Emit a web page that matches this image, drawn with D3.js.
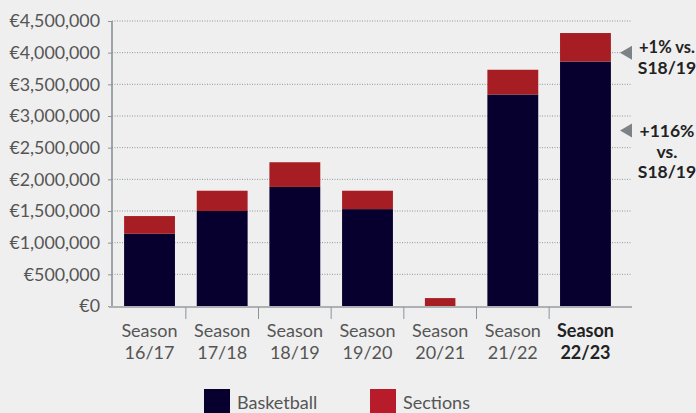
<!DOCTYPE html>
<html>
<head>
<meta charset="utf-8">
<script src="https://cdn.jsdelivr.net/npm/d3@7"></script>
<style>
  html, body { margin: 0; padding: 0; background: #efefef; }
  svg { display: block; font-family: Lato, "Open Sans", sans-serif; }
</style>
</head>
<body>
<div id="my_dataviz"></div>
<script>
// data
const seasons = ["16/17", "17/18", "18/19", "19/20", "20/21", "21/22", "22/23"];
const basketball = [1140000, 1500000, 1880000, 1530000, 0, 3340000, 3860000];
const sections = [280000, 320000, 390000, 290000, 125000, 390000, 450000];
const yTicks = [0, 500000, 1000000, 1500000, 2000000, 2500000, 3000000, 3500000, 4000000, 4500000];
const seriesNames = ["Basketball", "Sections"];
const notes = [
  { value: 4000000, lines: ["+1% vs.", "S18/19"] },
  { value: 2770000, lines: ["+116%", "vs.", "S18/19"] }
];

let width = 696;
let height = 413;

const navy = "#07002e";
const red = "#a61d23";
const legendRed = "#b81c2a";

var svg = d3
  .select("#my_dataviz")
  .append("svg")
  .attr("width", width)
  .attr("height", height);

// scales
let x = d3
  .scaleBand()
  .domain(seasons)
  .range([113.2, 621.8])
  .paddingInner(0.3)
  .paddingOuter(0.15);

let y = d3.scaleLinear().domain([0, 4500000]).range([306, 21]);

// dotted gridlines
svg
  .selectAll(".grid")
  .data(yTicks.slice(1))
  .enter()
  .append("line")
  .attr("x1", 112)
  .attr("x2", 632)
  .attr("y1", d => y(d))
  .attr("y2", d => y(d))
  .attr("stroke", "#8f9397")
  .attr("stroke-width", 1)
  .attr("stroke-dasharray", "1,1.5");

// y axis
let yAxis = svg
  .append("g")
  .attr("transform", "translate(112,0)")
  .call(
    d3.axisLeft(y)
      .tickValues(yTicks)
      .tickSize(4)
      .tickPadding(8)
      .tickFormat(d => "€" + d3.format(",")(d))
  );
yAxis.select(".domain").attr("stroke", "#858b91").attr("stroke-width", 1.5).attr("d", "M0," + y(4500000) + "V" + y(0));
yAxis.selectAll(".tick line").attr("stroke", "#8f9397");
yAxis
  .selectAll(".tick text")
  .attr("fill", "#555")
  .style("font-size", "17.8px")
  .style("font-family", "Lato, sans-serif");

// stacked bars
const rows = seasons.map((s, i) => ({ season: s, Basketball: basketball[i], Sections: sections[i] }));
const stacked = d3.stack().keys(seriesNames)(rows);
const colors = { Basketball: navy, Sections: red };

// the 20/21 bar is drawn narrower in the original
function barWidth(d) {
  return d.data.season == "20/21" ? x.bandwidth() * 0.6 : x.bandwidth();
}

stacked.forEach(function(layer) {
  svg
    .selectAll(".bar-" + layer.key)
    .data(layer)
    .enter()
    .append("rect")
    .attr("x", d => x(d.data.season) + (x.bandwidth() - barWidth(d)) / 2)
    .attr("width", barWidth)
    .attr("y", d => y(d[1]))
    .attr("height", d => y(d[0]) - y(d[1]))
    .attr("fill", colors[layer.key]);
});

// x axis line + ticks between categories
svg
  .append("line")
  .attr("x1", 109)
  .attr("x2", 632)
  .attr("y1", 307)
  .attr("y2", 307)
  .attr("stroke", "#aeb1b4")
  .attr("stroke-width", 2);

svg
  .selectAll(".xtick")
  .data(seasons.slice(1))
  .enter()
  .append("line")
  .attr("x1", d => x(d) - (x.step() * x.paddingInner()) / 2)
  .attr("x2", d => x(d) - (x.step() * x.paddingInner()) / 2)
  .attr("y1", 307)
  .attr("y2", 319)
  .attr("stroke", "#8f9397")
  .attr("stroke-width", 1);

let xLabels = svg
  .selectAll(".xlabel")
  .data(seasons)
  .enter()
  .append("text")
  .attr("text-anchor", "middle")
  .attr("fill", (d, i) => (i == seasons.length - 1 ? "#222" : "#555"))
  .style("font-weight", (d, i) => (i == seasons.length - 1 ? "bold" : "normal"))
  .style("font-size", "18px");
xLabels
  .append("tspan")
  .attr("x", d => x(d) + x.bandwidth() / 2)
  .attr("y", 337)
  .text("Season");
xLabels
  .append("tspan")
  .attr("x", d => x(d) + x.bandwidth() / 2)
  .attr("y", 359)
  .text(d => d);

// annotations
notes.forEach(function(n) {
  let cy = y(n.value);
  svg
    .append("path")
    .attr("d", d3.line()([[620, cy], [632, cy - 7], [632, cy + 7]]) + "Z")
    .attr("fill", "#7d8287");
  let t = svg
    .append("text")
    .attr("fill", "#222")
    .style("font-weight", "bold")
    .style("font-size", "17.5px");
  n.lines.forEach(function(line, i) {
    // the wide first line is kept inside the right edge
    let wide = n.lines.length == 2 && i == 0;
    t.append("tspan")
      .attr("x", wide ? 695 : 667)
      .attr("text-anchor", wide ? "end" : "middle")
      .style("font-size", wide ? "16.5px" : null)
      .attr("y", cy + (n.lines.length == 2 ? 0.5 : 6.5) + i * 20.5)
      .text(line);
  });
});

// legend
let legend = svg
  .selectAll(".legend")
  .data(seriesNames)
  .enter()
  .append("g")
  .attr("transform", (d, i) => "translate(" + (204 + i * 166) + ",389)");
legend
  .append("rect")
  .attr("width", 26)
  .attr("height", 25)
  .attr("fill", (d, i) => (i == 0 ? navy : legendRed));
legend
  .append("text")
  .attr("x", 33)
  .attr("y", 20)
  .attr("fill", "#555")
  .style("font-size", "18px")
  .text(d => d);
</script>
</body>
</html>
